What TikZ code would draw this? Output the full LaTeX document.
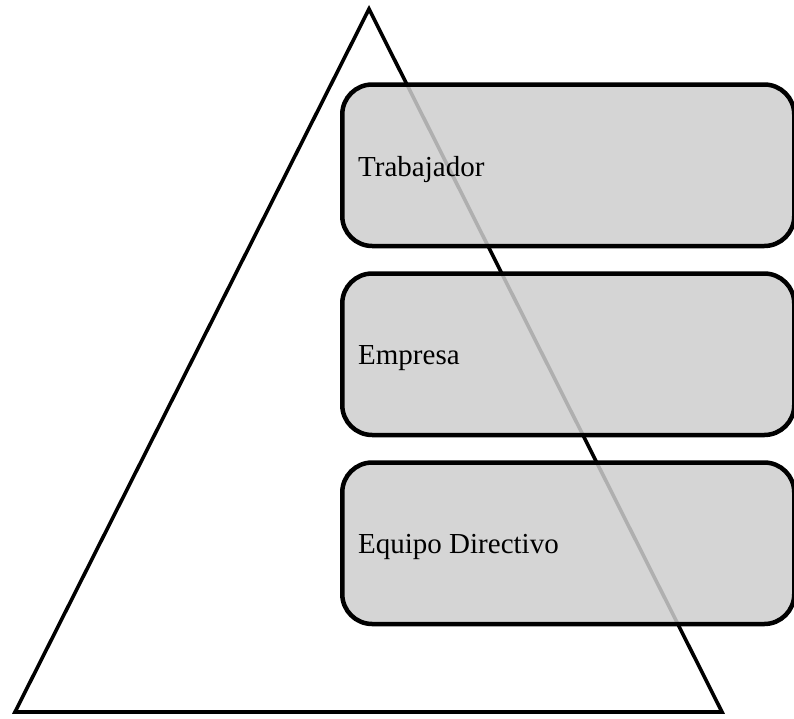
\documentclass[tikz,border=0pt]{standalone}
\usepackage{fontspec}
\setmainfont{Liberation Serif}
\usetikzlibrary{positioning}

\begin{document}
\begin{tikzpicture}[x=1pt, y=-1pt]
   \tikzstyle{level box}=[draw, line width=4.5pt, rounded corners=30pt, fill={rgb,255:red,206;green,206;blue,206}, fill opacity=0.85, text opacity=1, minimum width=452pt, minimum height=161.5pt, anchor=north west]
   \tikzstyle{level text}=[font=\fontsize{29}{33}\selectfont, anchor=west, inner sep=0pt]
   \useasboundingbox (0,0) rectangle (794,718);

\coordinate (apex) at (369,9);
\coordinate (left) at (15,712);
\coordinate (right) at (722,712);
\draw[line width=3.6pt, line join=miter] (apex) -- (right) -- (left) -- cycle;

\node[level box] (trabajador) at (340,82.25) {};
\node[level box, below=23pt of trabajador.south west, anchor=north west] (empresa) {};
\node[level box, below=23pt of empresa.south west, anchor=north west] (equipo) {};

\node[level text] at ([xshift=18pt, yshift=-4pt]trabajador.west) {Trabajador};
\node[level text] at ([xshift=18pt, yshift=-4pt]empresa.west) {Empresa};
\node[level text] at ([xshift=18pt, yshift=-4pt]equipo.west) {Equipo Directivo};

\end{tikzpicture}
\end{document}
